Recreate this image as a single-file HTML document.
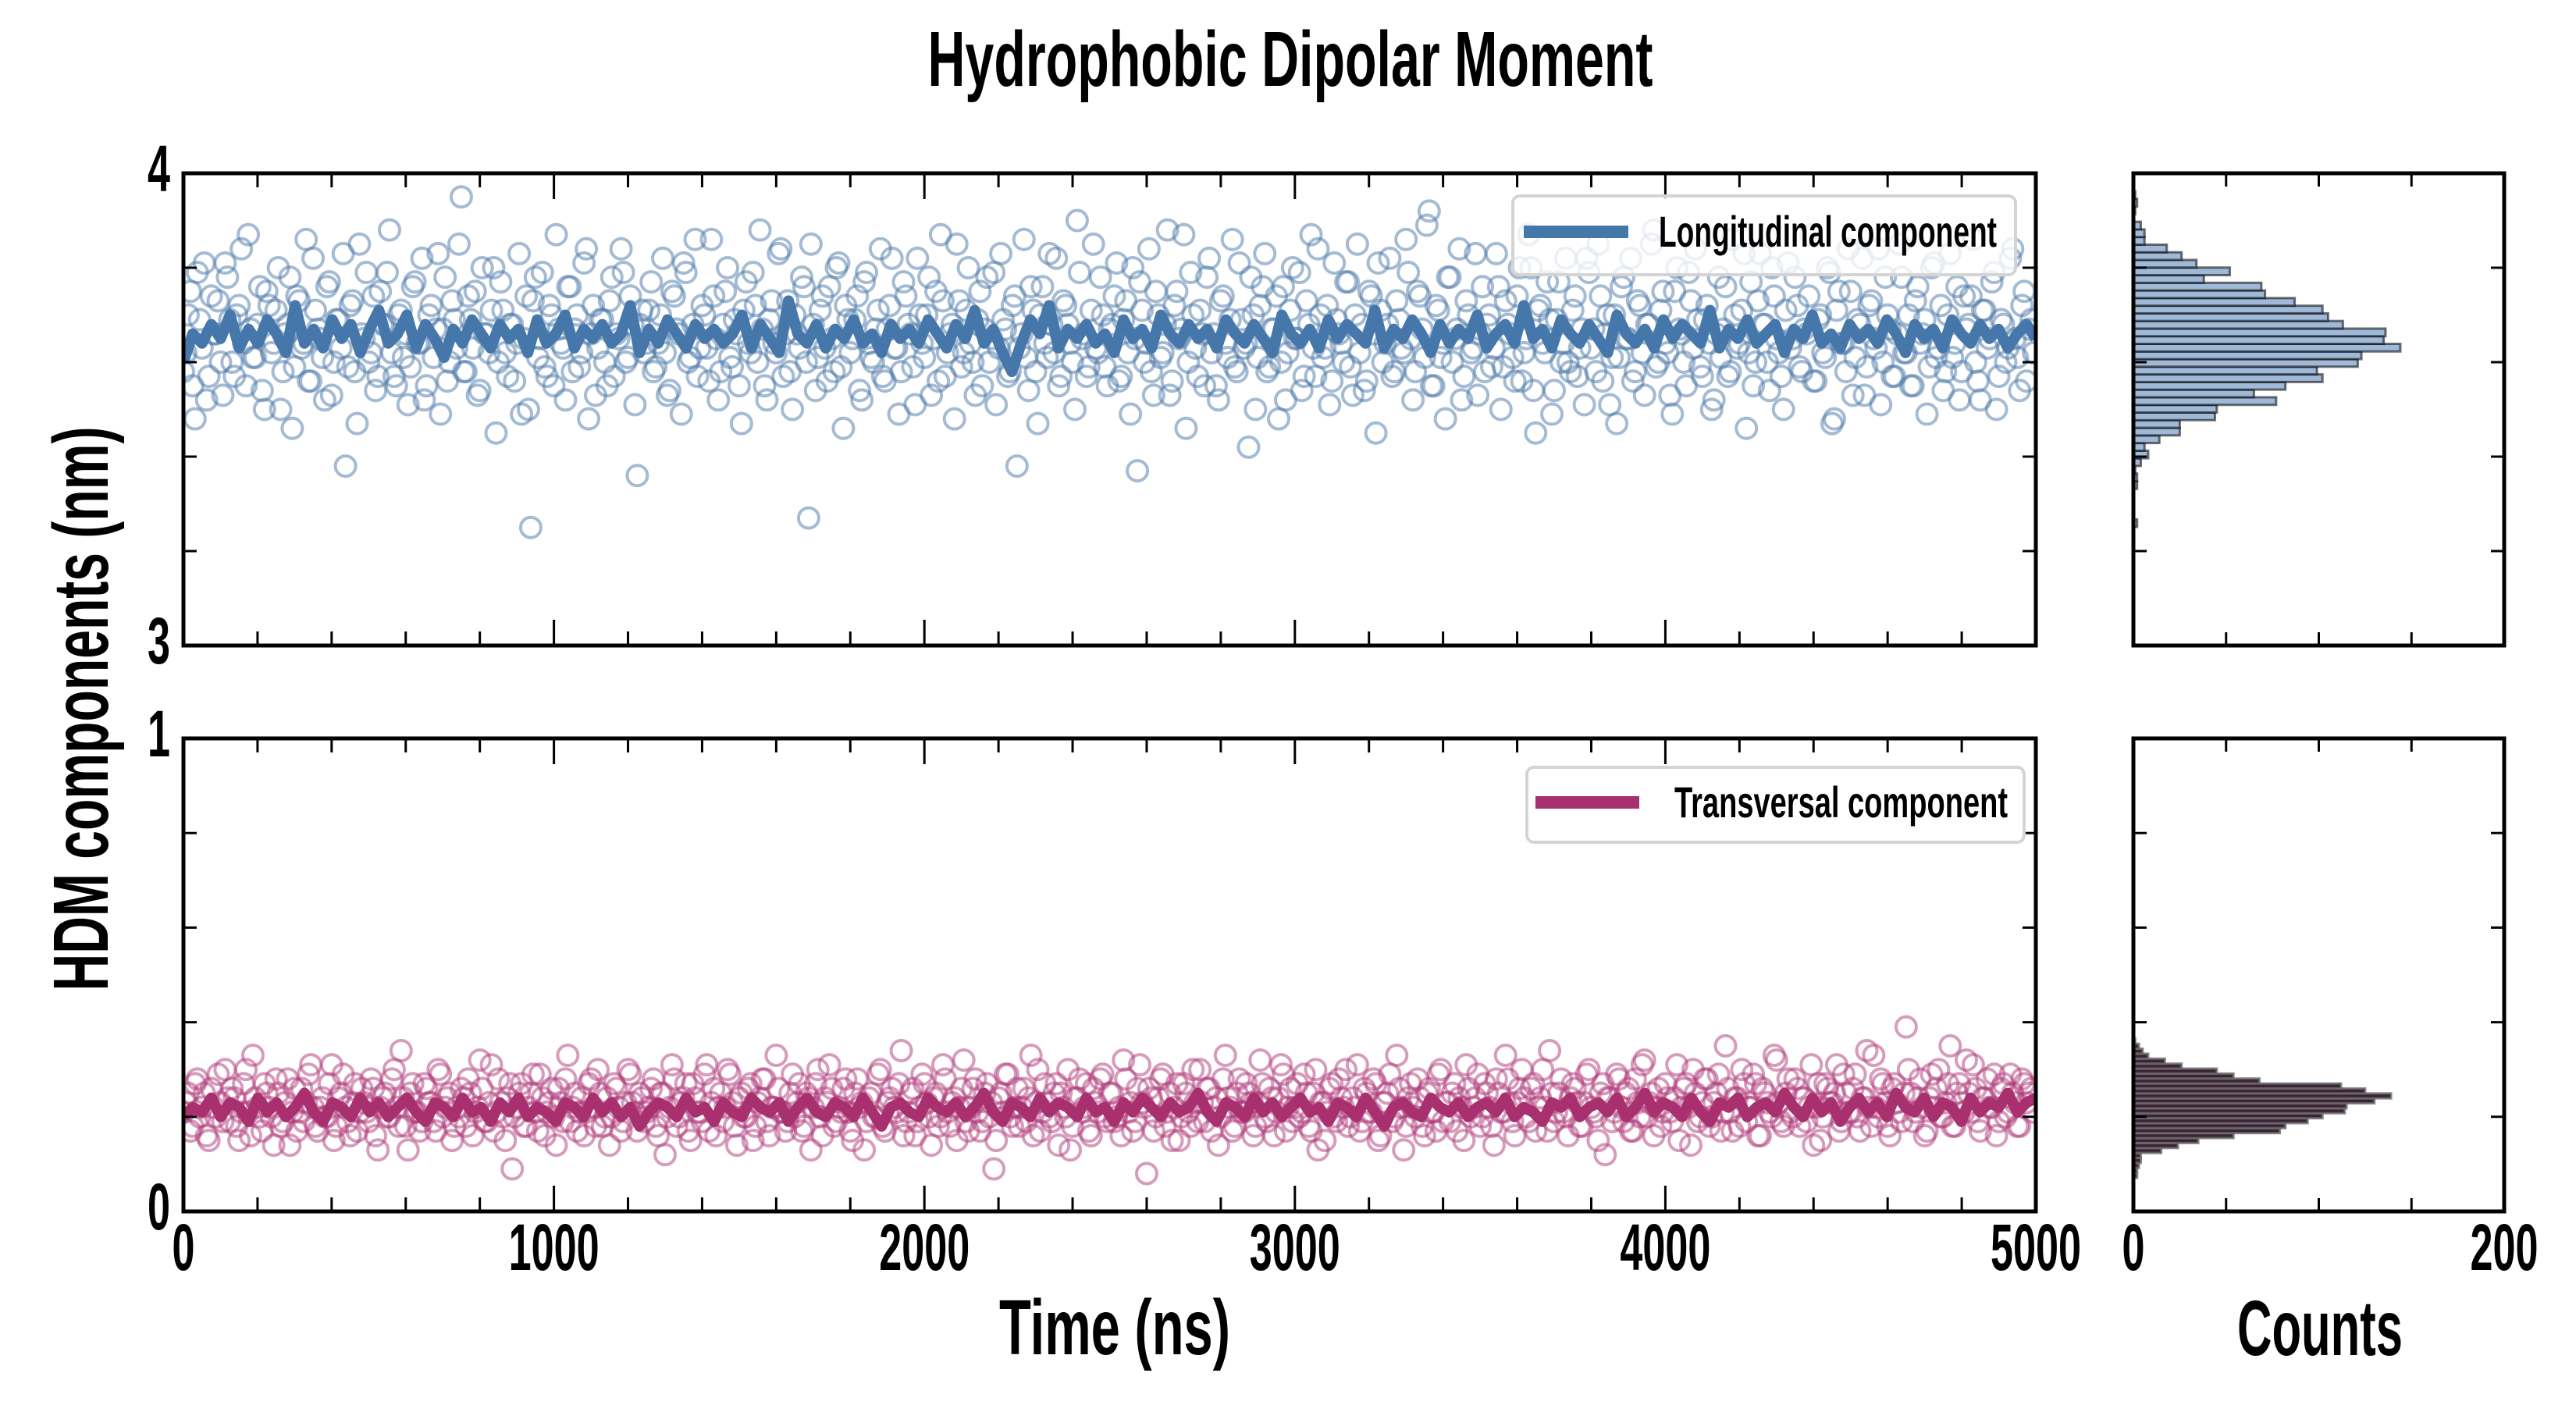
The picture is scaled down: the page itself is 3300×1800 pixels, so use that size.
<!DOCTYPE html>
<html><head><meta charset="utf-8">
<style>
html,body{margin:0;padding:0;background:#fff;}
svg{display:block;}
text{font-family:"Liberation Sans Narrow","Liberation Sans",sans-serif;font-weight:bold;fill:#000;}
</style></head>
<body>
<svg id="chart" width="3300" height="1800" viewBox="0 0 3300 1800" xmlns="http://www.w3.org/2000/svg">
<defs>
<clipPath id="clipTop"><rect x="235" y="222" width="2373" height="605"/></clipPath>
<clipPath id="clipBot"><rect x="235" y="946" width="2373" height="606"/></clipPath>
</defs>
<text x="1653" y="110" font-size="100" text-anchor="middle" textLength="929" lengthAdjust="spacingAndGlyphs">Hydrophobic Dipolar Moment</text>
<g id="topScatter" clip-path="url(#clipTop)"></g>
<g id="topLine" clip-path="url(#clipTop)"></g>
<g id="botScatter" clip-path="url(#clipBot)"></g>
<g id="botLine" clip-path="url(#clipBot)"></g>
<g id="topHist"></g>
<g id="botHist"></g>
<g id="axes"></g>
<g>
<rect x="1938" y="251" width="644" height="101" rx="9" fill="rgba(255,255,255,0.8)" stroke="#d4d4d4" stroke-width="4"/>
<line x1="1952" y1="297" x2="2086" y2="297" stroke="#4677aa" stroke-width="16"/>
<text x="2125" y="316" font-size="56" textLength="433" lengthAdjust="spacingAndGlyphs">Longitudinal component</text>
</g>
<g>
<rect x="1956" y="983" width="637" height="96" rx="9" fill="rgba(255,255,255,0.8)" stroke="#d4d4d4" stroke-width="4"/>
<line x1="1967" y1="1028" x2="2100" y2="1028" stroke="#a8306f" stroke-width="16"/>
<text x="2145" y="1047" font-size="56" textLength="427" lengthAdjust="spacingAndGlyphs">Transversal component</text>
</g>
<text x="1428" y="1735" font-size="100" text-anchor="middle" textLength="296" lengthAdjust="spacingAndGlyphs">Time (ns)</text>
<text x="2972" y="1736" font-size="100" text-anchor="middle" textLength="212" lengthAdjust="spacingAndGlyphs">Counts</text>
<text x="0" y="0" font-size="100" text-anchor="middle" textLength="723" lengthAdjust="spacingAndGlyphs" transform="translate(138,908) rotate(-90)">HDM components (nm)</text>
</svg>
<script>
const topScatter=[3.58,3.70,3.55,3.79,3.63,3.52,3.74,3.66,3.60,3.81,3.69,3.57,3.72,3.64,3.87,3.61,3.68,3.54,3.75,3.62,3.71,3.50,3.66,3.78,3.59,3.73,3.64,3.56,3.82,3.67,3.61,3.76,3.53,3.69,3.63,3.38,3.72,3.58,3.85,3.65,3.60,3.74,3.57,3.68,3.79,3.62,3.55,3.71,3.66,3.59,3.77,3.64,3.52,3.70,3.61,3.83,3.67,3.56,3.73,3.63,3.95,3.58,3.69,3.75,3.54,3.66,3.62,3.80,3.60,3.71,3.57,3.68,3.64,3.49,3.74,3.25,3.78,3.65,3.59,3.72,3.55,3.67,3.63,3.76,3.58,3.70,3.62,3.84,3.66,3.53,3.69,3.60,3.73,3.57,3.65,3.79,3.61,3.68,3.36,3.71,
3.64,3.77,3.59,3.70,3.62,3.54,3.74,3.66,3.81,3.60,3.68,3.57,3.72,3.63,3.86,3.65,3.58,3.75,3.61,3.69,3.55,3.71,3.64,3.79,3.60,3.67,3.52,3.73,3.62,3.84,3.66,3.58,3.70,3.63,3.76,3.27,3.68,3.61,3.74,3.56,3.65,3.80,3.59,3.72,3.62,3.69,3.54,3.77,3.64,3.60,3.71,3.57,3.67,3.82,3.63,3.58,3.74,3.66,3.51,3.70,3.61,3.78,3.65,3.56,3.73,3.62,3.68,3.85,3.59,3.71,3.64,3.53,3.75,3.67,3.60,3.79,3.63,3.69,3.57,3.72,3.38,3.66,3.61,3.76,3.58,3.70,3.64,3.83,3.62,3.55,3.73,3.68,3.60,3.90,3.65,3.57,3.71,3.63,3.78,3.59,
3.67,3.74,3.56,3.69,3.62,3.80,3.37,3.71,3.64,3.58,3.75,3.61,3.68,3.53,3.72,3.65,3.87,3.60,3.70,3.57,3.66,3.78,3.62,3.55,3.73,3.64,3.69,3.59,3.81,3.63,3.42,3.70,3.61,3.76,3.58,3.67,3.74,3.60,3.52,3.71,3.65,3.79,3.57,3.68,3.63,3.84,3.61,3.72,3.56,3.69,3.64,3.77,3.59,3.70,3.62,3.54,3.75,3.66,3.81,3.60,3.68,3.57,3.73,3.63,3.86,3.65,3.58,3.74,3.61,3.92,3.55,3.71,3.64,3.78,3.60,3.67,3.52,3.73,3.62,3.83,3.66,3.58,3.70,3.63,3.76,3.59,3.68,3.61,3.74,3.56,3.65,3.80,3.45,3.72,3.62,3.69,3.54,3.77,3.64,3.60,
3.71,3.57,3.67,3.82,3.63,3.58,3.74,3.66,3.51,3.70,3.61,3.78,3.65,3.56,3.73,3.62,3.68,3.85,3.59,3.71,3.64,3.53,3.75,3.67,3.60,3.79,3.63,3.69,3.57,3.72,3.50,3.66,3.61,3.76,3.58,3.70,3.64,3.83,3.62,3.55,3.73,3.68,3.60,3.80,3.65,3.57,3.71,3.63,3.78,3.59,3.67,3.74,3.56,3.69,3.62,3.80,3.47,3.71,3.64,3.58,3.75,3.61,3.68,3.53,3.72,3.65,3.84,3.60,3.70,3.57,3.66,3.78,3.62,3.55,3.73,3.64,3.69,3.59,3.81,3.63,3.54,3.70,3.61,3.76,3.58,3.67,3.74,3.60,3.52,3.71,3.65,3.79,3.57,3.68,3.63,3.84,3.61,3.72,3.56,3.69];
const topScatter2=[3.62,3.75,3.48,3.69,3.81,3.57,3.66,3.73,3.53,3.78,3.60,3.70,3.84,3.55,3.67,3.61,3.76,3.50,3.72,3.64,3.80,3.58,3.68,3.46,3.74,3.63,3.86,3.56,3.71,3.65,3.52,3.77,3.60,3.69,3.83,3.59,3.73,3.47,3.66,3.79,3.62,3.54,3.75,3.68,3.88,3.57,3.70,3.61,3.51,3.76,3.64,3.82,3.55,3.72,3.67,3.49,3.78,3.60,3.69,3.85,3.58,3.74,3.63,3.53,3.80,3.66,3.71,3.45,3.77,3.62,3.68,3.56,3.83,3.65,3.50,3.73,3.61,3.79,3.57,3.70,3.87,3.64,3.52,3.76,3.67,3.59,3.81,3.48,3.72,3.63,3.69,3.55,3.78,3.66,3.84,3.60,3.74,3.51,3.68,3.62,
3.71,3.58,3.64,3.82,3.53,3.75,3.67,3.49,3.79,3.61,3.86,3.63,3.70,3.56,3.74,3.52,3.68,3.80,3.59,3.66,3.47,3.77,3.62,3.72,3.88,3.55,3.69,3.64,3.83,3.57,3.73,3.50,3.66,3.78,3.60,3.85,3.54,3.71,3.63,3.76,3.58,3.81,3.46,3.69,3.65,3.74,3.52,3.79,3.61,3.67,3.84,3.56,3.72,3.63,3.49,3.77,3.68,3.59,3.82,3.64,3.70,3.53,3.75,3.87,3.57,3.66,3.48,3.73,3.62,3.80,3.60,3.69,3.55,3.78,3.65,3.51,3.83,3.67,3.58,3.74,3.63,3.86,3.54,3.71,3.47,3.76,3.61,3.68,3.82,3.57,3.72,3.64,3.50,3.79,3.66,3.59,3.85,3.62,3.70,3.55,
3.68,3.81,3.57,3.73,3.49,3.65,3.77,3.60,3.84,3.53,3.70,3.62,3.88,3.56,3.75,3.67,3.46,3.79,3.63,3.71,3.55,3.82,3.66,3.52,3.74,3.61,3.86,3.58,3.69,3.64,3.78,3.50,3.72,3.83,3.59,3.67,3.48,3.76,3.62,3.80,3.65,3.54,3.73,3.87,3.57,3.70,3.63,3.51,3.81,3.66,3.60,3.77,3.53,3.85,3.68,3.56,3.74,3.45,3.71,3.64,3.82,3.58,3.69,3.62,3.79,3.52,3.75,3.67,3.89,3.55,3.72,3.61,3.48,3.78,3.65,3.84,3.57,3.70,3.63,3.53,3.76,3.68,3.59,3.83,3.50,3.73,3.66,3.56,3.80,3.62,3.87,3.54,3.71,3.64,3.77,3.49,3.69,3.60,3.82,3.58,
3.74,3.63,3.51,3.79,3.67,3.85,3.56,3.70,3.61,3.47,3.76,3.65,3.82,3.58,3.72,3.53,3.68,3.88,3.60,3.75,3.62,3.49,3.80,3.66,3.55,3.73,3.84,3.59,3.69,3.64,3.52,3.78,3.67,3.57,3.86,3.63,3.71,3.46,3.77,3.60,3.83,3.68,3.54,3.74,3.62,3.50,3.81,3.65,3.72,3.58,3.66,3.87,3.56,3.70,3.61,3.79,3.48,3.75,3.64,3.84,3.53,3.69,3.82,3.59,3.73,3.63,3.51,3.78,3.67,3.57,3.85,3.62,3.70,3.55,3.76,3.66,3.49,3.80,3.61,3.72,3.58,3.83,3.64,3.52,3.74,3.68,3.86,3.56,3.71,3.63,3.77,3.50,3.69,3.60,3.82,3.65,3.54,3.75,3.67,3.62];
const botScatter=[0.21,0.25,0.18,0.28,0.22,0.16,0.26,0.20,0.23,0.30,0.19,0.24,0.15,0.27,0.21,0.33,0.22,0.17,0.25,0.20,0.28,0.18,0.23,0.14,0.26,0.21,0.19,0.29,0.22,0.17,0.24,0.20,0.31,0.18,0.25,0.22,0.16,0.27,0.21,0.23,0.19,0.26,0.13,0.24,0.20,0.28,0.22,0.34,0.18,0.25,0.21,0.17,0.27,0.23,0.19,0.30,0.20,0.24,0.15,0.22,0.26,0.18,0.25,0.21,0.32,0.19,0.23,0.17,0.28,0.20,0.24,0.09,0.22,0.27,0.18,0.25,0.21,0.29,0.16,0.23,0.20,0.26,0.19,0.33,0.22,0.17,0.24,0.21,0.28,0.18,0.25,0.20,0.14,0.27,0.22,0.19,0.30,0.23,0.17,0.24,
0.21,0.26,0.18,0.25,0.12,0.22,0.28,0.20,0.24,0.17,0.27,0.21,0.19,0.31,0.23,0.16,0.25,0.22,0.29,0.18,0.24,0.20,0.26,0.15,0.23,0.28,0.19,0.22,0.33,0.21,0.17,0.25,0.20,0.27,0.18,0.24,0.22,0.30,0.16,0.23,0.26,0.19,0.21,0.28,0.17,0.25,0.22,0.13,0.24,0.20,0.29,0.18,0.23,0.26,0.21,0.34,0.19,0.25,0.16,0.22,0.27,0.20,0.24,0.18,0.31,0.21,0.23,0.15,0.26,0.19,0.22,0.28,0.17,0.25,0.20,0.09,0.24,0.21,0.29,0.18,0.26,0.22,0.19,0.33,0.23,0.17,0.27,0.20,0.25,0.14,0.22,0.30,0.18,0.24,0.21,0.27,0.16,0.23,0.28,0.20,
0.25,0.19,0.22,0.32,0.21,0.17,0.26,0.23,0.08,0.24,0.20,0.28,0.18,0.25,0.22,0.15,0.27,0.21,0.30,0.19,0.23,0.26,0.17,0.24,0.20,0.33,0.22,0.18,0.28,0.21,0.25,0.16,0.23,0.27,0.19,0.24,0.21,0.31,0.17,0.26,0.22,0.20,0.29,0.18,0.25,0.13,0.23,0.21,0.27,0.19,0.24,0.30,0.20,0.22,0.17,0.26,0.21,0.28,0.15,0.23,0.25,0.19,0.33,0.22,0.18,0.27,0.20,0.24,0.16,0.26,0.21,0.29,0.19,0.23,0.25,0.17,0.22,0.31,0.20,0.24,0.18,0.27,0.22,0.14,0.25,0.21,0.28,0.19,0.23,0.30,0.20,0.26,0.17,0.24,0.22,0.34,0.19,0.25,0.21,0.16,
0.27,0.23,0.18,0.29,0.22,0.20,0.25,0.12,0.24,0.21,0.28,0.19,0.26,0.17,0.23,0.31,0.20,0.25,0.22,0.18,0.27,0.21,0.24,0.15,0.26,0.22,0.30,0.19,0.23,0.28,0.20,0.25,0.17,0.35,0.21,0.24,0.18,0.27,0.22,0.29,0.16,0.26,0.23,0.20,0.32,0.19,0.25,0.21,0.28,0.18,0.24,0.22,0.14,0.27,0.20,0.26,0.23,0.31,0.19,0.25,0.21,0.29,0.17,0.24,0.22,0.33,0.20,0.27,0.18,0.26,0.23,0.19,0.39,0.25,0.21,0.28,0.16,0.24,0.22,0.30,0.20,0.27,0.18,0.25,0.23,0.32,0.21,0.26,0.17,0.24,0.22,0.29,0.19,0.27,0.21,0.25,0.18,0.28,0.23,0.26];
const botScatter2=[0.23,0.17,0.27,0.20,0.25,0.15,0.22,0.29,0.19,0.24,0.26,0.18,0.21,0.30,0.16,0.24,0.20,0.27,0.22,0.14,0.25,0.19,0.28,0.21,0.17,0.26,0.23,0.31,0.18,0.22,0.20,0.27,0.15,0.24,0.29,0.19,0.23,0.17,0.26,0.21,0.28,0.16,0.22,0.25,0.20,0.30,0.18,0.24,0.13,0.27,0.21,0.19,0.26,0.23,0.17,0.29,0.22,0.25,0.18,0.20,0.24,0.28,0.16,0.22,0.26,0.19,0.31,0.21,0.23,0.15,0.27,0.20,0.25,0.18,0.22,0.29,0.17,0.24,0.21,0.26,0.14,0.23,0.28,0.19,0.25,0.21,0.16,0.27,0.22,0.30,0.18,0.24,0.20,0.26,0.17,0.23,0.29,0.21,0.25,0.19,
0.22,0.28,0.16,0.25,0.20,0.31,0.18,0.23,0.27,0.15,0.24,0.21,0.29,0.17,0.26,0.22,0.19,0.30,0.23,0.14,0.25,0.20,0.27,0.18,0.24,0.28,0.16,0.22,0.26,0.21,0.19,0.29,0.23,0.17,0.25,0.13,0.27,0.20,0.24,0.31,0.18,0.22,0.26,0.21,0.15,0.28,0.23,0.19,0.25,0.20,0.30,0.17,0.24,0.22,0.27,0.16,0.21,0.26,0.19,0.29,0.23,0.14,0.25,0.20,0.28,0.18,0.24,0.22,0.32,0.17,0.26,0.21,0.19,0.27,0.23,0.15,0.25,0.29,0.20,0.22,0.18,0.26,0.24,0.16,0.30,0.21,0.23,0.19,0.27,0.25,0.20,0.13,0.24,0.28,0.22,0.17,0.26,0.21,0.29,0.19,
0.25,0.20,0.16,0.28,0.23,0.19,0.31,0.22,0.26,0.17,0.24,0.29,0.21,0.15,0.27,0.20,0.25,0.18,0.23,0.30,0.19,0.26,0.22,0.14,0.28,0.24,0.17,0.25,0.21,0.27,0.23,0.18,0.32,0.20,0.26,0.16,0.24,0.29,0.22,0.19,0.27,0.21,0.25,0.17,0.30,0.23,0.15,0.26,0.20,0.28,0.22,0.18,0.24,0.31,0.19,0.25,0.21,0.27,0.16,0.23,0.29,0.20,0.26,0.13,0.24,0.22,0.28,0.18,0.25,0.21,0.17,0.30,0.23,0.19,0.27,0.24,0.15,0.26,0.22,0.29,0.20,0.25,0.18,0.28,0.21,0.33,0.23,0.16,0.26,0.24,0.19,0.27,0.22,0.30,0.17,0.25,0.21,0.28,0.20,0.24,
0.26,0.18,0.23,0.30,0.21,0.15,0.27,0.24,0.19,0.29,0.22,0.25,0.17,0.28,0.20,0.32,0.23,0.16,0.26,0.21,0.24,0.19,0.31,0.22,0.27,0.14,0.25,0.20,0.28,0.18,0.23,0.29,0.21,0.26,0.17,0.24,0.30,0.19,0.22,0.27,0.16,0.25,0.21,0.33,0.23,0.18,0.28,0.20,0.26,0.24,0.19,0.31,0.22,0.15,0.27,0.23,0.25,0.17,0.29,0.21,0.26,0.20,0.24,0.34,0.18,0.22,0.28,0.23,0.16,0.27,0.21,0.25,0.30,0.19,0.24,0.22,0.17,0.29,0.26,0.20,0.23,0.35,0.18,0.27,0.21,0.25,0.31,0.19,0.24,0.28,0.22,0.16,0.26,0.20,0.29,0.23,0.18,0.27,0.25,0.21];
const topLine=[3.60,3.66,3.64,3.68,3.65,3.70,3.63,3.67,3.64,3.69,3.66,3.62,3.72,3.64,3.67,3.63,3.69,3.65,3.68,3.62,3.67,3.71,3.64,3.66,3.70,3.63,3.68,3.65,3.61,3.67,3.64,3.69,3.66,3.63,3.68,3.65,3.67,3.62,3.69,3.64,3.66,3.70,3.63,3.67,3.65,3.68,3.64,3.66,3.72,3.62,3.67,3.64,3.69,3.66,3.63,3.68,3.65,3.67,3.64,3.66,3.70,3.63,3.68,3.65,3.62,3.73,3.66,3.64,3.68,3.63,3.67,3.65,3.69,3.64,3.66,3.62,3.68,3.65,3.67,3.64,3.69,3.66,3.63,3.68,3.65,3.71,3.64,3.67,3.62,3.58,3.64,3.69,3.66,3.72,3.63,3.67,3.65,3.68,3.64,3.66,
3.62,3.69,3.65,3.67,3.63,3.70,3.66,3.64,3.68,3.65,3.67,3.63,3.69,3.66,3.64,3.68,3.65,3.62,3.70,3.66,3.64,3.67,3.63,3.69,3.65,3.68,3.66,3.64,3.71,3.63,3.67,3.65,3.69,3.66,3.62,3.68,3.64,3.67,3.65,3.70,3.63,3.66,3.68,3.64,3.72,3.65,3.67,3.63,3.69,3.66,3.64,3.68,3.65,3.62,3.70,3.66,3.64,3.67,3.63,3.69,3.65,3.68,3.66,3.64,3.71,3.63,3.67,3.65,3.69,3.64,3.66,3.68,3.62,3.67,3.65,3.70,3.64,3.66,3.63,3.68,3.65,3.67,3.64,3.69,3.66,3.62,3.68,3.65,3.67,3.63,3.69,3.66,3.64,3.68,3.65,3.67,3.63,3.66,3.68,3.65];
const botLine=[0.20,0.22,0.21,0.24,0.20,0.23,0.22,0.19,0.24,0.21,0.23,0.20,0.22,0.25,0.21,0.19,0.23,0.22,0.20,0.24,0.21,0.23,0.20,0.22,0.24,0.21,0.19,0.23,0.22,0.20,0.24,0.21,0.22,0.19,0.23,0.21,0.24,0.20,0.22,0.21,0.19,0.23,0.22,0.20,0.24,0.21,0.23,0.20,0.22,0.18,0.21,0.23,0.22,0.20,0.24,0.21,0.22,0.19,0.23,0.21,0.20,0.24,0.22,0.21,0.23,0.19,0.22,0.24,0.21,0.20,0.23,0.22,0.20,0.24,0.21,0.18,0.22,0.23,0.21,0.20,0.24,0.22,0.21,0.23,0.20,0.22,0.25,0.21,0.19,0.23,0.22,0.20,0.24,0.21,0.23,0.22,0.20,0.24,0.21,0.22,
0.19,0.23,0.21,0.24,0.22,0.20,0.23,0.21,0.22,0.25,0.21,0.19,0.23,0.22,0.20,0.24,0.21,0.23,0.20,0.22,0.24,0.21,0.22,0.19,0.23,0.22,0.20,0.24,0.21,0.18,0.22,0.23,0.21,0.20,0.24,0.22,0.21,0.23,0.20,0.22,0.23,0.21,0.24,0.20,0.22,0.21,0.19,0.23,0.22,0.24,0.20,0.22,0.23,0.21,0.24,0.20,0.22,0.25,0.21,0.23,0.22,0.20,0.24,0.21,0.19,0.23,0.22,0.24,0.20,0.22,0.23,0.21,0.25,0.22,0.20,0.24,0.21,0.23,0.19,0.22,0.24,0.21,0.23,0.20,0.25,0.22,0.21,0.24,0.20,0.23,0.22,0.19,0.24,0.21,0.23,0.22,0.25,0.21,0.23,0.24];
// histogram counts, low value -> high value
const topHistCounts=[2,0,0,0,0,2,2,1,4,8,6,14,25,25,44,45,77,65,82,102,99,121,123,144,135,136,113,105,102,87,71,69,38,52,34,26,18,6,6,4,0,1,2,1];
const topHistRange=[3.251,3.962];
const botHistCounts=[2,2,3,4,4,15,24,35,54,79,82,94,102,114,115,130,139,125,112,68,54,45,26,17,8,5,3,1];
const botHistRange=[0.071,0.365];
const xTicks=[0,1000,2000,3000,4000,5000];
const histTicks=[0,200];

const NS='http://www.w3.org/2000/svg';
const X0=235,X1=2608,TY0=222,TY1=827,BY0=946,BY1=1552,HX0=2733,HX1=3208;
function xS(t){return X0+(t/5000)*(X1-X0);}
function yTop(v){return TY1-(v-3)*(TY1-TY0);}
function yBot(v){return BY1-v*(BY1-BY0);}
function hX(c){return HX0+(c/200)*(HX1-HX0);}
function mk(tag,attrs,parent){const e=document.createElementNS(NS,tag);for(const k in attrs)e.setAttribute(k,attrs[k]);parent.appendChild(e);return e;}

function scatter(vals,g,yf,color,name,offset){
  const step=5000/vals.length;
  vals.forEach((v,i)=>{
    const c=mk('circle',{cx:xS((i+offset)*step),cy:yf(v),r:13,fill:'none',stroke:color,'stroke-width':4,'stroke-opacity':0.5},g);
    
    
  });
}
function line(vals,g,yf,color,name){
  const step=5000/(vals.length-1);
  const d=vals.map((v,i)=>(i?'L':'M')+xS(i*step).toFixed(1)+','+yf(v).toFixed(1)).join('');
  const p=mk('path',{d:d,fill:'none',stroke:color,'stroke-width':14,'stroke-linejoin':'round'},g);
  
  
}
function hist(counts,range,g,yf,fill,stroke,name){
  const w=(range[1]-range[0])/counts.length;
  counts.forEach((c,i)=>{
    if(c<=0)return;
    const lo=range[0]+i*w, hi=lo+w;
    const y1=yf(hi), y2=yf(lo);
    const r=mk('rect',{x:HX0,y:y1,width:hX(c)-HX0,height:y2-y1,fill:fill,stroke:stroke,'stroke-width':3},g);
    
    
  });
}
const tsg=document.getElementById('topScatter'), bsg=document.getElementById('botScatter');
scatter(topScatter,tsg,yTop,'#4a77a8','longitudinal-point',0);
scatter(topScatter2,tsg,yTop,'#4a77a8','longitudinal-point',0.5);
scatter(botScatter,bsg,yBot,'#b03a7a','transversal-point',0);
scatter(botScatter2,bsg,yBot,'#b03a7a','transversal-point',0.5);
line(topLine,document.getElementById('topLine'),yTop,'#4677aa','longitudinal-running-mean');
line(botLine,document.getElementById('botLine'),yBot,'#a8306f','transversal-running-mean');
hist(topHistCounts,topHistRange,document.getElementById('topHist'),yTop,'#9fb9d9','rgba(0,0,0,0.55)','longitudinal-hist-bar');
hist(botHistCounts,botHistRange,document.getElementById('botHist'),yBot,'#3b2235','rgba(110,110,110,0.8)','transversal-hist-bar');

const ax=document.getElementById('axes');
function frame(x0,y0,x1,y1,name){
  const r=mk('rect',{x:x0,y:y0,width:x1-x0,height:y1-y0,fill:'none',stroke:'#000','stroke-width':5},ax);
  
  
}
frame(X0,TY0,X1,TY1,'top-panel-frame');
frame(X0,BY0,X1,BY1,'bottom-panel-frame');
frame(HX0,TY0,HX1,TY1,'top-hist-frame');
frame(HX0,BY0,HX1,BY1,'bottom-hist-frame');
function tk(x1,y1,x2,y2){mk('line',{x1:x1,y1:y1,x2:x2,y2:y2,stroke:'#000','stroke-width':3},ax);}
for(let t=200;t<5000;t+=200){
  const L=(t%1000===0)?33:18, x=xS(t);
  [[TY0,TY1],[BY0,BY1]].forEach(([a,b])=>{tk(x,a,x,a+L);tk(x,b,x,b-L);});
}
for(let k=1;k<5;k++){
  const yt=yTop(3+k*0.2), yb=yBot(k*0.2);
  [yt,yb].forEach(y=>{tk(X0,y,X0+17,y);tk(X1,y,X1-17,y);tk(HX0,y,HX0+17,y);tk(HX1,y,HX1-17,y);});
}
for(let c=50;c<200;c+=50){
  const x=hX(c);
  [[TY0,TY1],[BY0,BY1]].forEach(([a,b])=>{tk(x,a,x,a+17);tk(x,b,x,b-17);});
}
function label(txt,x,y,anchor,name){
  const t=mk('text',{x:x,y:y,'font-size':84,'text-anchor':anchor,textLength:29*txt.length,lengthAdjust:'spacingAndGlyphs'},ax);
  t.textContent=txt;
  
  
}
xTicks.forEach(t=>label(String(t),xS(t),1627,'middle','x-tick-label'));
histTicks.forEach(c=>label(String(c),hX(c),1627,'middle','hist-tick-label'));
label('4',218,yTop(4)+23,'end','y-tick-label');
label('3',218,yTop(3)+23,'end','y-tick-label');
label('1',218,yBot(1)+23,'end','y-tick-label');
label('0',218,yBot(0)+23,'end','y-tick-label');
</script>
</body></html>
